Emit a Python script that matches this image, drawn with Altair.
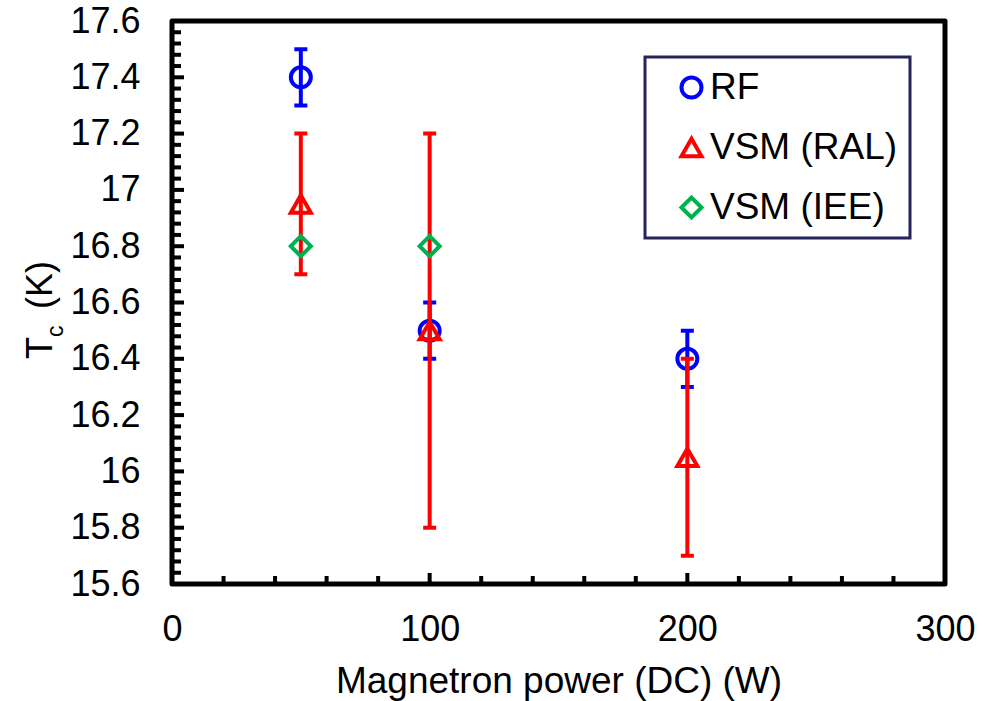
import altair as alt
import pandas as pd

# Sputtering power (W) and critical temperature Tc (K)
rf_power = [50, 100, 200]
rf_tc = [17.4, 16.5, 16.4]
rf_err = [0.1, 0.1, 0.1]

ral_power = [50, 100, 200]
ral_tc = [16.95, 16.5, 16.05]
ral_err = [0.25, 0.7, 0.35]

iee_power = [50, 100]
iee_tc = [16.8, 16.8]

series_names = ["RF", "VSM (RAL)", "VSM (IEE)"]
series_colors = ["#0000FF", "#FF0000", "#00B050"]
series_shapes = ["circle", "triangle-up", "diamond"]

x_labels = [0, 100, 200, 300]
y_labels = [15.6, 15.8, 16.0, 16.2, 16.4, 16.6, 16.8, 17.0, 17.2, 17.4, 17.6]
x_minor = [20, 40, 60, 80, 120, 140, 160, 180, 220, 240, 260, 280]
x_major = [100, 200]
y_minor = [round(15.6 + 0.04 * i, 2) for i in range(1, 50) if i % 5 != 0]
y_major = [15.8, 16.0, 16.2, 16.4, 16.6, 16.8, 17.0, 17.2, 17.4]

FONT = "Liberation Sans"
W, H = 773, 563

xscale = alt.Scale(domain=[0, 300], nice=False, zero=False)
yscale = alt.Scale(domain=[15.6, 17.6], nice=False, zero=False)
xaxis = alt.Axis(values=x_labels, ticks=False, domain=False, grid=False,
                 labelFontSize=36, labelFont=FONT, labelColor="black",
                 labelPadding=28, title="Magnetron power (DC) (W)",
                 titleFont=FONT, titleFontSize=37, titleFontWeight="normal",
                 titleColor="black", titlePadding=16, labelFlush=False)
yaxis = alt.Axis(values=y_labels, format="~g", ticks=False, domain=False,
                 grid=False, labelFontSize=36, labelFont=FONT,
                 labelColor="black", labelPadding=32, title=None,
                 labelFlush=False)


def X(field):
    return alt.X(f"{field}:Q", scale=xscale, axis=xaxis)


def Y(field):
    return alt.Y(f"{field}:Q", scale=yscale, axis=yaxis)


legend = alt.Legend(title=None, orient="none", legendX=473, legendY=36,
                    padding=12, symbolOffset=16, rowPadding=22,
                    labelFont=FONT, labelFontSize=37, labelColor="black",
                    labelOffset=0, labelLimit=500, symbolSize=400,
                    symbolStrokeWidth=4, fillColor="white",
                    strokeColor="#25245A")
color_enc = alt.Color("series:N", scale=alt.Scale(domain=series_names, range=series_colors),
                      legend=legend)
shape_enc = alt.Shape("series:N", scale=alt.Scale(domain=series_names, range=series_shapes),
                      legend=legend)

rf = pd.DataFrame({"series": "RF", "power": rf_power, "tc": rf_tc,
                   "lo": [v - e for v, e in zip(rf_tc, rf_err)],
                   "hi": [v + e for v, e in zip(rf_tc, rf_err)]})
ral = pd.DataFrame({"series": "VSM (RAL)", "power": ral_power, "tc": ral_tc,
                    "lo": [v - e for v, e in zip(ral_tc, ral_err)],
                    "hi": [v + e for v, e in zip(ral_tc, ral_err)]})
iee = pd.DataFrame({"series": "VSM (IEE)", "power": iee_power, "tc": iee_tc})


def error_bars(df, color):
    base = alt.Chart(df)
    stem = base.mark_rule(color=color, strokeWidth=4).encode(x=X("power"), y=Y("lo"), y2="hi")
    cap_lo = base.mark_tick(color=color, orient="horizontal", size=13, thickness=4,
                            opacity=1).encode(x=X("power"), y=Y("lo"))
    cap_hi = base.mark_tick(color=color, orient="horizontal", size=13, thickness=4,
                            opacity=1).encode(x=X("power"), y=Y("hi"))
    return [stem, cap_lo, cap_hi]


def markers(df):
    return alt.Chart(df).mark_point(filled=False, size=400, strokeWidth=4, opacity=1).encode(
        x=X("power"), y=Y("tc"), color=color_enc, shape=shape_enc)


# inward-pointing tick marks along the left and bottom axes
def y_ticks(vals, length):
    return alt.Chart(pd.DataFrame({"v": vals})).mark_rule(color="black", strokeWidth=4).encode(
        y=Y("v"), x=alt.value(0), x2=alt.value(length))


def x_ticks(vals, length):
    return alt.Chart(pd.DataFrame({"v": vals})).mark_rule(color="black", strokeWidth=4).encode(
        x=X("v"), y=alt.value(H), y2=alt.value(H - length))


# y-axis title "Tc (K)" with subscript c
def label(text, x, y, size):
    return alt.Chart(pd.DataFrame({"t": [text]})).mark_text(
        angle=270, align="left", baseline="alphabetic", font=FONT, fontSize=size,
        color="black").encode(text="t:N", x=alt.value(x), y=alt.value(y))


layers = (
    [y_ticks(y_minor, 9), y_ticks(y_major, 12), x_ticks(x_minor, 8), x_ticks(x_major, 11)]
    + error_bars(rf, series_colors[0]) + [markers(rf)]
    + error_bars(ral, series_colors[1]) + [markers(ral)]
    + [markers(iee)]
    + [label("T", -120, 338, 36), label("c", -109, 316, 23), label("(K)", -120, 288, 36)]
)

chart = alt.layer(*layers).resolve_scale(color="shared", shape="shared").properties(
    width=W, height=H,
    background="white",
    autosize=alt.AutoSizeParams(type="none"),
    padding={"left": 172, "top": 21, "right": 42, "bottom": 117},
).configure_view(
    stroke="black", strokeWidth=5, strokeJoin="round"
).configure_legend(
    strokeWidth=3
)

chart.save("out.html", embed_options={"renderer": "svg", "actions": False})
